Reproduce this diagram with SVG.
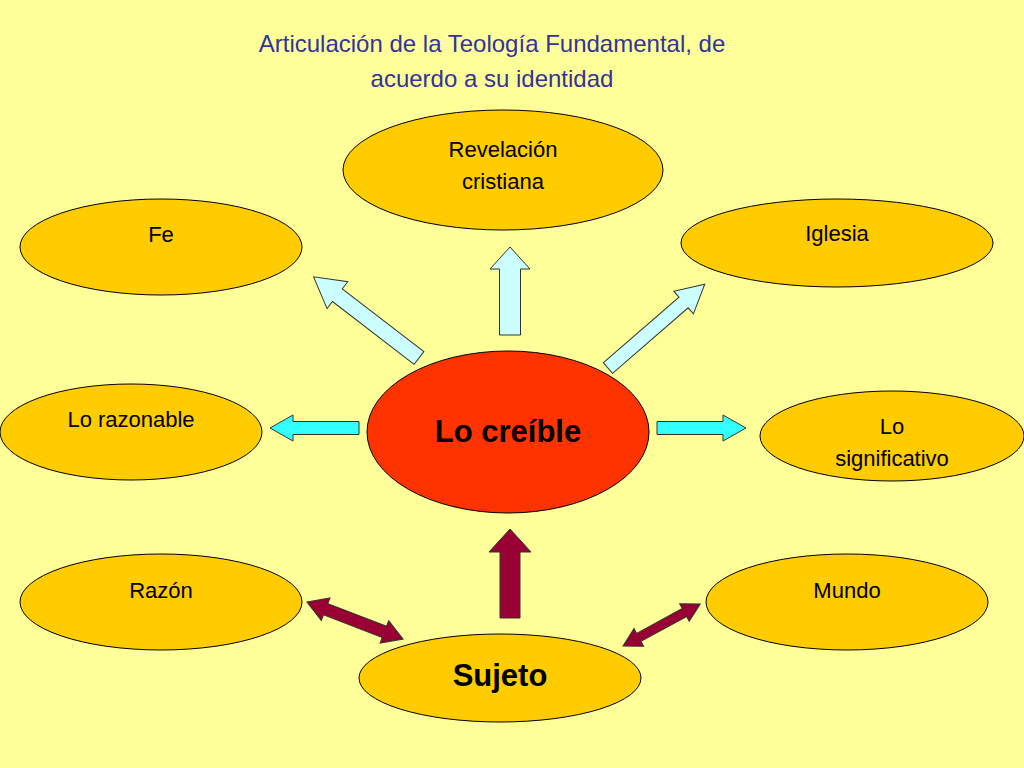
<svg xmlns="http://www.w3.org/2000/svg" width="1024" height="768" viewBox="0 0 1024 768">
<style>
.n{fill:#FFCC00;stroke:#000;stroke-width:1}
.t{font-family:"Liberation Sans",Arial,sans-serif;font-size:22px;fill:#000;text-anchor:middle}
.b{font-family:"Liberation Sans",Arial,sans-serif;font-size:31px;font-weight:bold;fill:#000;text-anchor:middle}
.lb{fill:#CCFFFF;stroke:#333;stroke-width:1}
.cy{fill:#33FFFF;stroke:#333;stroke-width:1}
.rd{fill:#990033;stroke:#333;stroke-width:1}
</style>
<rect width="1024" height="768" fill="#FFFF99"/>
<text x="492" y="52" style="font-family:'Liberation Sans',Arial,sans-serif;font-size:24px;fill:#333399;text-anchor:middle">Articulación de la Teología Fundamental, de</text>
<text x="492" y="87" style="font-family:'Liberation Sans',Arial,sans-serif;font-size:24px;fill:#333399;text-anchor:middle">acuerdo a su identidad</text>
<g id="revelacion"><ellipse class="n" cx="503" cy="170" rx="160" ry="60"/><text class="t" x="503" y="157">Revelación</text><text class="t" x="503" y="189">cristiana</text></g>
<g id="fe"><ellipse class="n" cx="161" cy="247" rx="141" ry="48"/><text class="t" x="161" y="242">Fe</text></g>
<g id="iglesia"><ellipse class="n" cx="837" cy="243" rx="156" ry="44"/><text class="t" x="837" y="241">Iglesia</text></g>
<g id="razonable"><ellipse class="n" cx="131" cy="432" rx="131" ry="48"/><text class="t" x="131" y="427">Lo razonable</text></g>
<g id="creible"><ellipse cx="508" cy="432" rx="141" ry="81" fill="#FF3300" stroke="#000"/><text class="b" x="508" y="442">Lo creíble</text></g>
<g id="significativo"><ellipse class="n" cx="892" cy="436" rx="132" ry="45"/><text class="t" x="892" y="434">Lo</text><text class="t" x="892" y="466">significativo</text></g>
<g id="razon"><ellipse class="n" cx="161" cy="602" rx="141" ry="48"/><text class="t" x="161" y="598">Razón</text></g>
<g id="mundo"><ellipse class="n" cx="847" cy="602" rx="141" ry="48"/><text class="t" x="847" y="598">Mundo</text></g>
<g id="sujeto"><ellipse class="n" cx="500" cy="678" rx="141" ry="44"/><text class="b" x="500" y="686">Sujeto</text></g>
<g id="connectors">
<path class="lb" transform="translate(510,335) rotate(-90)" d="M0,-10.5 L66,-10.5 L66,-20 L88,0 L66,20 L66,10.5 L0,10.5 Z"/>
<path class="lb" transform="translate(419,358) rotate(217.6)" d="M0,-8 L103,-8 L103,-17 L133,0 L103,17 L103,8 L0,8 Z"/>
<path class="lb" transform="translate(608,368) rotate(-40.9)" d="M0,-7 L100,-7 L100,-15 L128,0 L100,15 L100,7 L0,7 Z"/>
<path class="cy" transform="translate(359,428) rotate(180)" d="M0,-6.5 L66,-6.5 L66,-13 L89,0 L66,13 L66,6.5 L0,6.5 Z"/>
<path class="cy" transform="translate(657,428)" d="M0,-6.5 L66,-6.5 L66,-13 L89,0 L66,13 L66,6.5 L0,6.5 Z"/>
<path class="rd" transform="translate(510,618) rotate(-90)" d="M0,-10 L66,-10 L66,-21 L89,0 L66,21 L66,10 L0,10 Z"/>
<path class="rd" transform="translate(307,602) rotate(21.1)" d="M0,0 L20,-12 L20,-6 L83,-6 L83,-12 L103,0 L83,12 L83,6 L20,6 L20,12 Z"/>
<path class="rd" transform="translate(623,646) rotate(-28.6)" d="M0,0 L18,-10 L18,-4.5 L70,-4.5 L70,-10 L88,0 L70,10 L70,4.5 L18,4.5 L18,10 Z"/>
</g>
</svg>
